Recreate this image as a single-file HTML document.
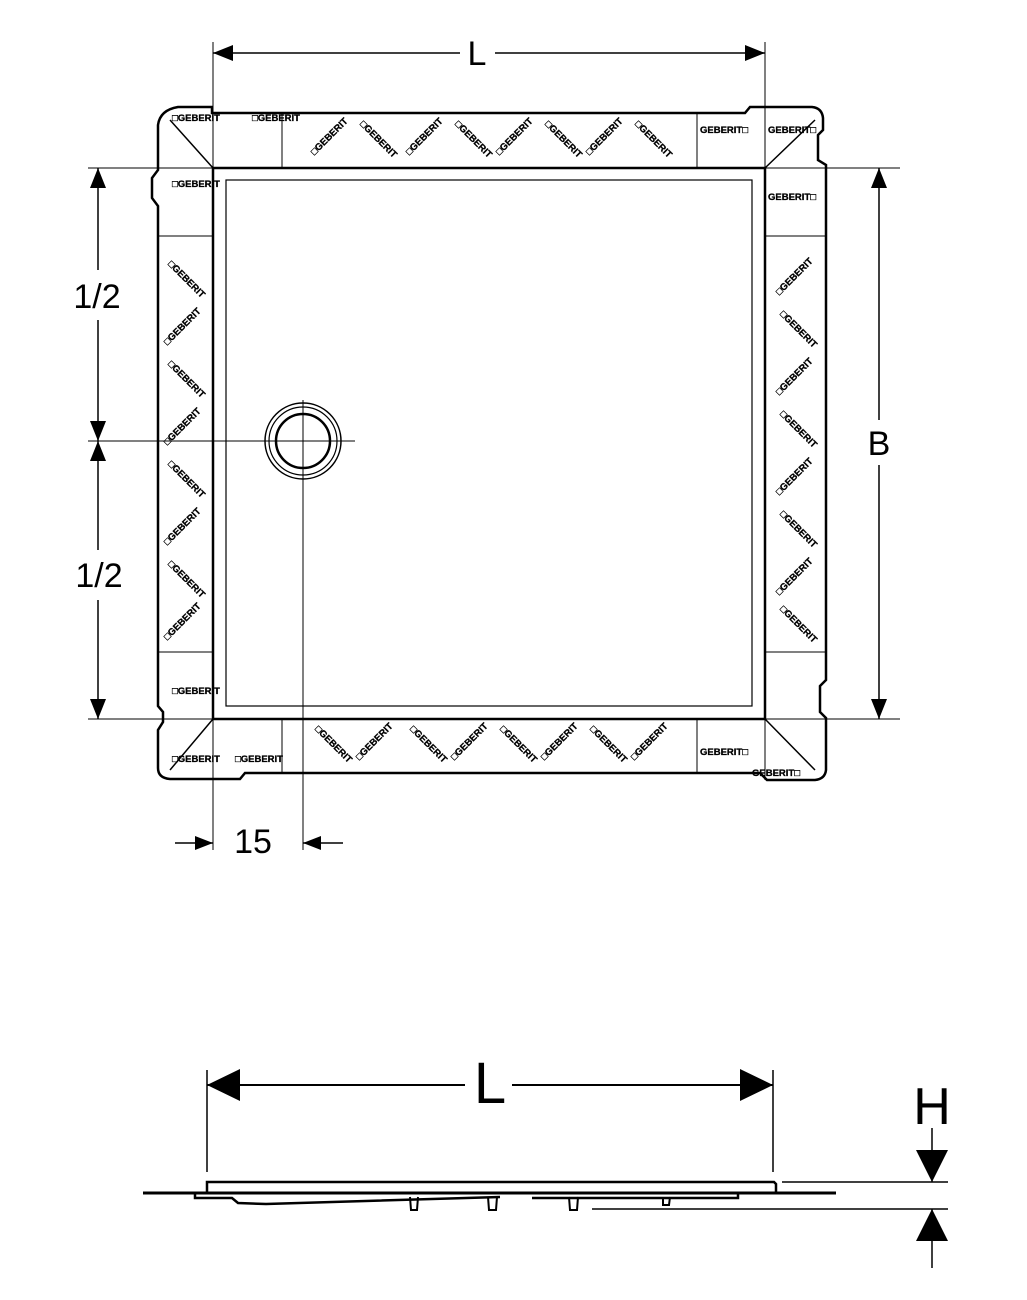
<!DOCTYPE html>
<html><head><meta charset="utf-8"><style>
html,body{margin:0;padding:0;background:#fff;}
svg{display:block;}
text{font-family:"Liberation Sans",sans-serif;}
.g{font-size:9.5px;font-weight:bold;fill:#000;stroke:#000;stroke-width:0.3;}
</style></head><body>
<svg width="1027" height="1300" viewBox="0 0 1027 1300" xmlns="http://www.w3.org/2000/svg">
<g fill="none" stroke="#000">
<path stroke-width="2.5" d="M178,107 L212,107 L212,113 L745,113 L750,107 L762,107 L812,107 Q822,108 823,118 L823,130 L818,135 L818,160 L826,165 L826,680 L820,686 L820,712 L826,718 L826,770 Q825,779 815,780 L767,780 L760,773 L245,773 L240,779 L170,779 Q158,778 158,768 L158,730 L163,722 L163,712 L158,706 L158,206 L152,198 L152,178 L158,170 L158,125 Q160,110 178,107 Z"/>
<line x1="213" y1="42" x2="213" y2="850" stroke-width="1"/>
<line x1="765" y1="42" x2="765" y2="168" stroke-width="1"/>
<line x1="765" y1="719" x2="765" y2="780" stroke-width="1"/>
<line x1="88" y1="168" x2="900" y2="168" stroke-width="1"/>
<line x1="88" y1="719" x2="900" y2="719" stroke-width="1"/>
<line x1="282" y1="113" x2="282" y2="168" stroke-width="1"/>
<line x1="697" y1="113" x2="697" y2="168" stroke-width="1"/>
<line x1="158" y1="236" x2="213" y2="236" stroke-width="1"/>
<line x1="765" y1="236" x2="826" y2="236" stroke-width="1"/>
<line x1="158" y1="652" x2="213" y2="652" stroke-width="1"/>
<line x1="765" y1="652" x2="826" y2="652" stroke-width="1"/>
<line x1="282" y1="719" x2="282" y2="773" stroke-width="1"/>
<line x1="697" y1="719" x2="697" y2="773" stroke-width="1"/>
<line x1="170" y1="120" x2="213" y2="168" stroke-width="1.5"/>
<line x1="815" y1="120" x2="765" y2="168" stroke-width="1.5"/>
<line x1="170" y1="770" x2="213" y2="719" stroke-width="1.5"/>
<line x1="815" y1="770" x2="765" y2="719" stroke-width="1.5"/>
<rect x="213" y="168" width="552" height="551" stroke-width="2.5"/>
<rect x="226" y="180" width="526" height="526" stroke-width="1.2"/>
<circle cx="303" cy="441" r="38" stroke-width="1.5"/>
<circle cx="303" cy="441" r="34" stroke-width="1.2"/>
<circle cx="303" cy="441" r="27" stroke-width="2.5"/>
<line x1="88" y1="441" x2="355" y2="441" stroke-width="1"/>
<line x1="303" y1="400" x2="303" y2="850" stroke-width="1"/>
<line x1="213" y1="53" x2="460" y2="53" stroke-width="1.5"/>
<line x1="495" y1="53" x2="765" y2="53" stroke-width="1.5"/>
<line x1="98" y1="168" x2="98" y2="270" stroke-width="1.5"/>
<line x1="98" y1="320" x2="98" y2="441" stroke-width="1.5"/>
<line x1="98" y1="441" x2="98" y2="550" stroke-width="1.5"/>
<line x1="98" y1="600" x2="98" y2="719" stroke-width="1.5"/>
<line x1="879" y1="168" x2="879" y2="420" stroke-width="1.5"/>
<line x1="879" y1="465" x2="879" y2="719" stroke-width="1.5"/>
<line x1="175" y1="843" x2="213" y2="843" stroke-width="1.5"/>
<line x1="303" y1="843" x2="343" y2="843" stroke-width="1.5"/>
<line x1="207" y1="1070" x2="207" y2="1172" stroke-width="1.5"/>
<line x1="773" y1="1070" x2="773" y2="1172" stroke-width="1.5"/>
<line x1="207" y1="1085" x2="465" y2="1085" stroke-width="2"/>
<line x1="512" y1="1085" x2="773" y2="1085" stroke-width="2"/>
<path stroke-width="2.5" d="M207,1192 L207,1182 L774,1182 L776,1184 L776,1192"/>
<line x1="143" y1="1193" x2="836" y2="1193" stroke-width="3"/>
<path stroke-width="2.5" d="M195,1194 L195,1198 L232,1198 L238,1203 L266,1204 L500,1197 M738,1194 L738,1198 L532,1198"/>
<path stroke-width="2" d="M410,1197 L411,1210 L417,1210 L418,1197 M488,1197 L489,1210 L496,1210 L497,1197 M569,1197 L570,1210 L577,1210 L578,1197 M663,1197 L663,1205 L669,1205 L670,1197"/>
<line x1="782" y1="1182" x2="948" y2="1182" stroke-width="1.5"/>
<line x1="592" y1="1209" x2="948" y2="1209" stroke-width="1.5"/>
<line x1="932" y1="1128" x2="932" y2="1182" stroke-width="1.5"/>
<line x1="932" y1="1209" x2="932" y2="1268" stroke-width="1.5"/>
</g>
<g fill="#000">
<path d="M213,53 L233,45 L233,61z M765,53 L745,45 L745,61z"/>
<path d="M98,168 L90,188 L106,188z M98,441 L90,421 L106,421z M98,441 L90,461 L106,461z M98,719 L90,699 L106,699z"/>
<path d="M879,168 L871,188 L887,188z M879,719 L871,699 L887,699z"/>
<path d="M213,843 L195,836 L195,850z M303,843 L321,836 L321,850z"/>
<path d="M207,1085 L240,1069 L240,1101z M773,1085 L740,1069 L740,1101z"/>
<path d="M932,1182 L916,1150 L948,1150z M932,1209 L916,1241 L948,1241z"/>
</g>
<g text-anchor="middle" fill="#000">
<text x="477" y="65" font-size="34">L</text>
<text x="97" y="308" font-size="34">1/2</text>
<text x="99" y="587" font-size="34">1/2</text>
<text x="879" y="455" font-size="34">B</text>
<text x="253" y="853" font-size="34">15</text>
<text x="490" y="1103" font-size="58">L</text>
<text x="932" y="1124" font-size="52">H</text>
</g>
<g class="g">
<text x="172" y="121">□GEBERIT</text>
<text x="252" y="121">□GEBERIT</text>
<text x="700" y="133">GEBERIT□</text>
<text x="768" y="133">GEBERIT□</text>
<text x="172" y="187">□GEBERIT</text>
<text x="768" y="200">GEBERIT□</text>
<text x="172" y="694">□GEBERIT</text>
<text x="700" y="755">GEBERIT□</text>
<text x="172" y="762">□GEBERIT</text>
<text x="235" y="762">□GEBERIT</text>
<text x="752" y="776">GEBERIT□</text>
<g transform="rotate(-45 330 140)"><text x="308" y="140">□GEBERIT</text></g>
<g transform="rotate(45 375 140)"><text x="353" y="140">□GEBERIT</text></g>
<g transform="rotate(-45 425 140)"><text x="403" y="140">□GEBERIT</text></g>
<g transform="rotate(45 470 140)"><text x="448" y="140">□GEBERIT</text></g>
<g transform="rotate(-45 515 140)"><text x="493" y="140">□GEBERIT</text></g>
<g transform="rotate(45 560 140)"><text x="538" y="140">□GEBERIT</text></g>
<g transform="rotate(-45 605 140)"><text x="583" y="140">□GEBERIT</text></g>
<g transform="rotate(45 650 140)"><text x="628" y="140">□GEBERIT</text></g>
<g transform="rotate(45 330 745)"><text x="308" y="745">□GEBERIT</text></g>
<g transform="rotate(-45 375 745)"><text x="353" y="745">□GEBERIT</text></g>
<g transform="rotate(45 425 745)"><text x="403" y="745">□GEBERIT</text></g>
<g transform="rotate(-45 470 745)"><text x="448" y="745">□GEBERIT</text></g>
<g transform="rotate(45 515 745)"><text x="493" y="745">□GEBERIT</text></g>
<g transform="rotate(-45 560 745)"><text x="538" y="745">□GEBERIT</text></g>
<g transform="rotate(45 605 745)"><text x="583" y="745">□GEBERIT</text></g>
<g transform="rotate(-45 650 745)"><text x="628" y="745">□GEBERIT</text></g>
<g transform="rotate(45 183 280)"><text x="161" y="280">□GEBERIT</text></g>
<g transform="rotate(-45 183 330)"><text x="161" y="330">□GEBERIT</text></g>
<g transform="rotate(45 183 380)"><text x="161" y="380">□GEBERIT</text></g>
<g transform="rotate(-45 183 430)"><text x="161" y="430">□GEBERIT</text></g>
<g transform="rotate(45 183 480)"><text x="161" y="480">□GEBERIT</text></g>
<g transform="rotate(-45 183 530)"><text x="161" y="530">□GEBERIT</text></g>
<g transform="rotate(45 183 580)"><text x="161" y="580">□GEBERIT</text></g>
<g transform="rotate(-45 183 625)"><text x="161" y="625">□GEBERIT</text></g>
<g transform="rotate(-45 795 280)"><text x="773" y="280">□GEBERIT</text></g>
<g transform="rotate(45 795 330)"><text x="773" y="330">□GEBERIT</text></g>
<g transform="rotate(-45 795 380)"><text x="773" y="380">□GEBERIT</text></g>
<g transform="rotate(45 795 430)"><text x="773" y="430">□GEBERIT</text></g>
<g transform="rotate(-45 795 480)"><text x="773" y="480">□GEBERIT</text></g>
<g transform="rotate(45 795 530)"><text x="773" y="530">□GEBERIT</text></g>
<g transform="rotate(-45 795 580)"><text x="773" y="580">□GEBERIT</text></g>
<g transform="rotate(45 795 625)"><text x="773" y="625">□GEBERIT</text></g>
</g>
</svg>
</body></html>
